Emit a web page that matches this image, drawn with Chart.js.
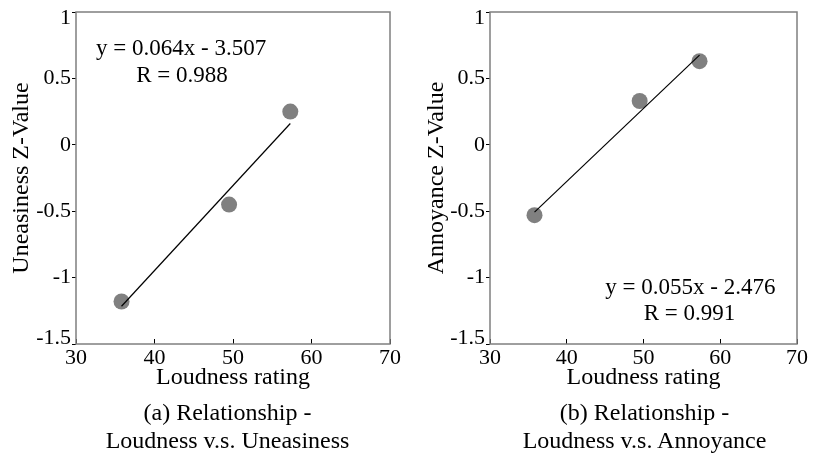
<!DOCTYPE html>
<html>
<head>
<meta charset="utf-8">
<script src="https://cdn.jsdelivr.net/npm/chart.js@4.4.0/dist/chart.umd.min.js"></script>
<style>
  body { margin: 0; background: #fff; }
  #wrap { position: relative; width: 814px; height: 456px; overflow: hidden; }
  .panel { position: absolute; top: 0; width: 407px; height: 456px; }
  .cap { position: absolute; width: 407px; text-align: center; font-family: "Liberation Serif", "Times New Roman", serif;
         font-size: 24px; line-height: 28px; color: #000; }
</style>
</head>
<body>
<div id="wrap">
  <div class="panel" style="left:0"><canvas id="chartA" width="407" height="456"></canvas></div>
  <div class="panel" style="left:407px"><canvas id="chartB" width="407" height="456"></canvas></div>
  <div class="cap" style="left:24px; top:398px">(a) Relationship -<br>Loudness v.s. Uneasiness</div>
  <div class="cap" style="left:441px; top:398px">(b) Relationship -<br>Loudness v.s. Annoyance</div>
</div>
<script>
// data
var loudness = [35.8, 49.5, 57.3];
var uneasiness = [-1.18, -0.45, 0.25];
var annoyance = [-0.53, 0.33, 0.63];

// fitted lines as printed on the figure
var fitA = [0.064, -3.507];
var fitB = [0.055, -2.476];
var labelA = ['y = 0.064x - 3.507', 'R = 0.988'];
var labelB = ['y = 0.055x - 2.476', 'R = 0.991'];

var xTicks = [30, 40, 50, 60, 70];
var yTicks = [1, 0.5, 0, -0.5, -1, -1.5];

var serif = '"Liberation Serif", "Times New Roman", serif';

function points(xs, ys) {
    return xs.map(function (x, i) { return {x: x, y: ys[i]}; });
}

function fitLine(xs, fit) {
    var lo = Math.min.apply(null, xs), hi = Math.max.apply(null, xs);
    return [{x: lo, y: fit[0] * lo + fit[1]}, {x: hi, y: fit[0] * hi + fit[1]}];
}

// box around the plot + equation text
var boxPlugin = {
    id: 'box',
    afterDraw: function (chart, args, opts) {
        var a = chart.chartArea, ctx = chart.ctx;
        ctx.save();
        ctx.strokeStyle = '#7f7f7f';
        ctx.lineWidth = 1.5;
        ctx.strokeRect(a.left, a.top, a.right - a.left, a.bottom - a.top);
        ctx.fillStyle = '#000';
        ctx.font = '23px ' + serif;
        ctx.textAlign = 'center';
        ctx.textBaseline = 'middle';
        var xs = chart.scales.x, ys = chart.scales.y;
        opts.lines.forEach(function (t, i) {
            ctx.fillText(t, xs.getPixelForValue(opts.at[i][0]), ys.getPixelForValue(opts.at[i][1]));
        });
        ctx.restore();
    }
};

function makeChart(id, yVals, fit, title, text, textAt, axisW, pad, titlePad) {
    var ctx = document.getElementById(id).getContext('2d');
    return new Chart(ctx, {
        type: 'scatter',
        data: {
            datasets: [{
                type: 'line',
                data: fitLine(loudness, fit),
                borderColor: '#000',
                borderWidth: 1.2,
                pointRadius: 0,
                fill: false,
                order: 0
            }, {
                data: points(loudness, yVals),
                backgroundColor: '#808080',
                borderWidth: 0,
                pointRadius: 8,
                pointHoverRadius: 8,
                order: 1
            }]
        },
        options: {
            responsive: false,
            animation: false,
            events: [],
            layout: {padding: pad},
            plugins: {
                legend: {display: false},
                tooltip: {enabled: false},
                box: {lines: text, at: textAt}
            },
            scales: {
                x: {
                    type: 'linear',
                    min: 30, max: 70,
                    afterBuildTicks: function (s) { s.ticks = xTicks.map(function (v) { return {value: v}; }); },
                    afterFit: function (s) { s.height = 46; },
                    grid: {drawOnChartArea: false, drawTicks: true, tickLength: -5, color: '#000', lineWidth: 1},
                    border: {display: false},
                    ticks: {color: '#000', font: {family: serif, size: 22}, padding: 6, maxRotation: 0},
                    title: {display: true, text: 'Loudness rating', color: '#000',
                            font: {family: serif, size: 24, lineHeight: 1}, padding: 0}
                },
                y: {
                    min: -1.5, max: 1,
                    afterBuildTicks: function (s) { s.ticks = yTicks.map(function (v) { return {value: v}; }); },
                    afterFit: function (s) { s.width = axisW; },
                    grid: {drawOnChartArea: false, drawTicks: true, tickLength: 4, color: '#000', lineWidth: 1},
                    border: {display: false},
                    ticks: {
                        color: '#000',
                        padding: 1,
                        // keep the end labels inside the box, like the original
                        callback: function (v) {
                            if (v === 1) return ['', '1'];
                            if (v === -1.5) return ['-1.5', ''];
                            return String(v);
                        },
                        font: function (c) {
                            var v = c.tick && c.tick.value;
                            var lh = 1.2;
                            if (v === 1) lh = 0.55;
                            if (v === -1.5) lh = 0.5;
                            return {family: serif, size: 22, lineHeight: lh};
                        }
                    },
                    title: {display: true, text: title, color: '#000',
                            font: {family: serif, size: 24, lineHeight: 1}, padding: {top: titlePad}}
                }
            }
        },
        plugins: [boxPlugin]
    });
}

makeChart('chartA', uneasiness, fitA, 'Uneasiness Z-Value', labelA, [[43.4, 0.72], [43.5, 0.515]],
          76, {top: 7, left: 0, right: 14, bottom: 66}, 10);
makeChart('chartB', annoyance, fitB, 'Annoyance Z-Value', labelB, [[56.1, -1.075], [56.0, -1.27]],
          83, {top: 9, left: 0, right: 9, bottom: 66}, 18);
</script>
</body>
</html>
